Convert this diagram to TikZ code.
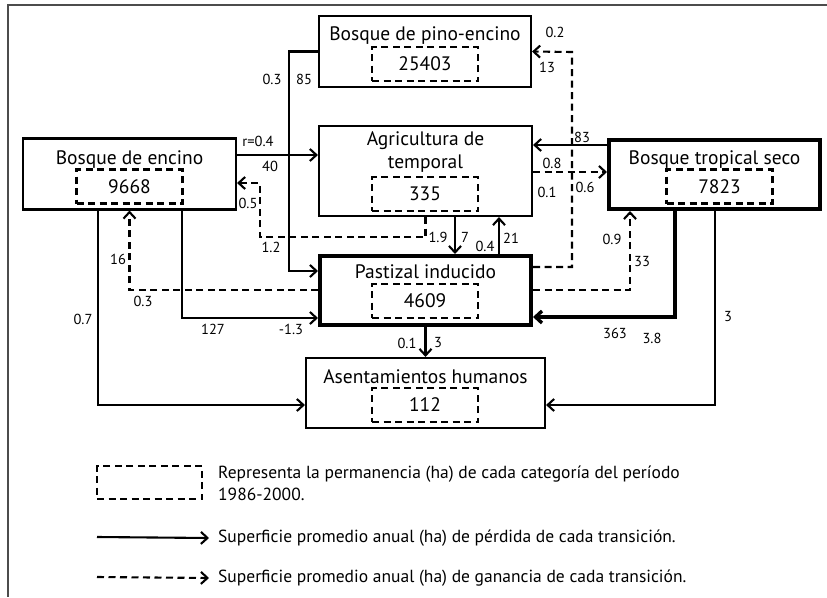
\documentclass[tikz,border=0pt]{standalone}
\usepackage{fontspec}
\setmainfont{PT Sans}
\usetikzlibrary{arrows.meta,positioning}

\begin{document}
\begin{tikzpicture}[
    x=1pt,y=-1pt,
    >={Straight Barb[length=6.5pt,width=12pt]},
    box/.style={draw,line width=2.1pt,minimum width=213,minimum height=71},
    heavybox/.style={box,line width=4pt},
    perm/.style={draw,line width=2.1pt,dash pattern=on 7pt off 4.5pt,minimum width=106,minimum height=34,inner sep=0pt,font=\fontsize{19.5}{22}\selectfont},
    cattitle/.style={font=\fontsize{19.5}{22.5}\selectfont,align=center,inner sep=0pt},
    lbl/.style={font=\fontsize{14.5}{16}\selectfont,inner sep=0pt},
    loss/.style={->,line width=2.1pt},
    gain/.style={->,line width=2.1pt,dash pattern=on 7pt off 4.5pt},
    legtext/.style={font=\fontsize{17.5}{22}\selectfont,anchor=west,align=left,inner sep=0pt}]
    \useasboundingbox (0,0) rectangle (827,597);
    \draw[black!70,line width=1.2pt] (827,5) -- (8,5) -- (8,597);

    % categorias
    \node[box] (BE) at (129.5,174) {};
    \node[box,minimum width=212] (BPE) at (425,51.5) {};
    \node[box,minimum height=90] (AT) at (425.5,171) {};
    \node[heavybox,minimum width=211,minimum height=69] (BTS) at (714.5,174.5) {};
    \node[heavybox,minimum width=211,minimum height=69] (PI) at (425.5,290.5) {};
    \node[box,minimum width=239,minimum height=70] (AH) at (425.5,393) {};

    \node[cattitle,anchor=base] (BEt) at (129.5,164) {Bosque de encino};
    \node[cattitle,anchor=base] (BPEt) at (425,40) {Bosque de pino-encino};
    \node[cattitle] (ATt) at (425.5,152) {Agricultura de\\temporal};
    \node[cattitle,anchor=base] (BTSt) at (714.5,164) {Bosque tropical seco};
    \node[cattitle,anchor=base] (PIt) at (425.5,278) {Pastizal inducido};
    \node[cattitle,anchor=base] (AHt) at (425.5,383) {Asentamientos humanos};

    \node[perm] (BEp) at (129.5,186.5) {9668};
    \node[perm] (BPEp) at (425,64) {25403};
    \node[perm] (ATp) at (425,194) {335};
    \node[perm] (BTSp) at (719.5,186.5) {7823};
    \node[perm] (PIp) at (425,301) {4609};
    \node[perm] (AHp) at (425,405) {112};

    % transiciones
    \draw[loss] (BE.east |- 0,155) -- (AT.west |- 0,155);
    \draw[loss] (BPE.west) -| (289,271) -- (PI.west |- 0,271);
    \draw[gain] (AT.south) -- ++(0,20) -| (260,183) -- (BE.east |- 0,183);
    \draw[loss] (AT.south -| 455,0) -- (PI.north -| 455,0);
    \draw[loss] (PI.north -| 499,0) -- (AT.south -| 499,0);
    \draw[loss] (BTS.west |- 0,145) -- (AT.east |- 0,145);
    \draw[gain] (AT.east |- 0,172) -- (BTS.west |- 0,172);
    \draw[gain] (PI.east |- 0,267) -| (572,52) -- (BPE.east);
    \draw[gain] (PI.east |- 0,290) -| (BTS.south -| 630,0);
    \draw[loss,line width=3.4pt] (BTS.south -| 675,0) |- (PI.east |- 0,317);
    \draw[loss] (BTS.south -| 715,0) |- (AH.east |- 0,405);
    \draw[loss] (BE.south -| 98,0) |- (AH.west |- 0,405);
    \draw[loss] (BE.south -| 182,0) |- (PI.west |- 0,318);
    \draw[gain] (PI.west |- 0,290) -| (BE.south);
    \draw[loss] (PI.south) -- (AH.north);

    % valores
    \node[lbl] (BEAT-r) at (258,141) {r=0.4};
    \node[lbl] (BEAT-a) at (270,166) {40};
    \node[lbl] (BPEPI-a) at (272,79) {0.3};
    \node[lbl] (BPEPI-b) at (304,79) {85};
    \node[lbl] (ATBE-a) at (248,203) {0.5};
    \node[lbl] (ATBE-b) at (271,247) {1.2};
    \node[lbl] (ATBE-c) at (438,237) {1.9};
    \node[lbl] (ATPI-a) at (465,237) {7};
    \node[lbl] (PIAT-a) at (485,246) {0.4};
    \node[lbl] (PIAT-b) at (511,238) {21};
    \node[lbl] (BTSAT-a) at (582,137) {83};
    \node[lbl] (ATBTS-a) at (552,163) {0.8};
    \node[lbl] (ATBTS-b) at (547,192) {0.1};
    \node[lbl] (PIBPE-a) at (555,32) {0.2};
    \node[lbl] (PIBPE-b) at (547,67) {13};
    \node[lbl] (PIBPE-c) at (585,187) {0.6};
    \node[lbl] (PIBTS-a) at (612,239) {0.9};
    \node[lbl] (PIBTS-b) at (642,262) {33};
    \node[lbl] (BTSPI-a) at (615,333) {363};
    \node[lbl] (BTSPI-b) at (652,338) {3.8};
    \node[lbl] (BTSAH-a) at (728,317) {3};
    \node[lbl] (BEAH-a) at (83,319) {0.7};
    \node[lbl] (BEPI-a) at (213,329) {127};
    \node[lbl] (BEPI-b) at (291,329) {-1.3};
    \node[lbl] (PIBE-a) at (118,259) {16};
    \node[lbl] (PIBE-b) at (143,301) {0.3};
    \node[lbl] (PIAH-a) at (407,343) {0.1};
    \node[lbl] (PIAH-b) at (438,343) {3};

    % leyenda
    \node[perm,minimum width=105,minimum height=33] (Lperm) at (149.5,482.5) {};
    \node[legtext] (Lpermtxt) at (218,483) {Representa la permanencia (ha) de cada categoría del período\\1986-2000.};
    \coordinate (Lloss0) at (97,537);
    \node[legtext] (Llosstxt) at (218,538) {Superficie promedio anual (ha) de pérdida de cada transición.};
    \draw[loss] (Lloss0) -- ([xshift=-9]Llosstxt.west);
    \coordinate (Lgain0) at (97,577);
    \node[legtext] (Lgaintxt) at (218,578) {Superficie promedio anual (ha) de ganancia de cada transición.};
    \draw[gain] (Lgain0) -- ([xshift=-9]Lgaintxt.west);
\end{tikzpicture}
\end{document}
